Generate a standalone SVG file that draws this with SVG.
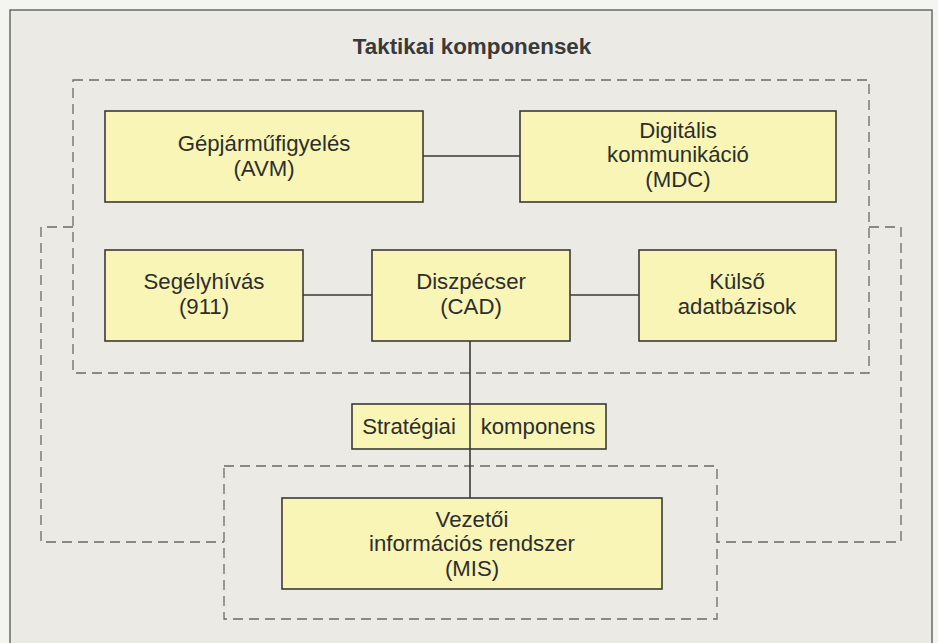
<svg xmlns="http://www.w3.org/2000/svg" width="938" height="643" viewBox="0 0 938 643">
  <style>
    .node { fill: #f8f5b6; stroke: #3a3a38; stroke-width: 1.6; }
    .link { stroke: #3a3a38; stroke-width: 1.6; fill: none; }
    .zone { stroke: #6a6a68; stroke-width: 1.3; fill: none; stroke-dasharray: 10 6; }
    .label { font-family: "Liberation Sans", Arial, sans-serif; font-size: 22.2px; fill: #2e2e2c; text-anchor: middle; }
    .title { font-family: "Liberation Sans", Arial, sans-serif; font-size: 22.4px; font-weight: bold; fill: #3a3a38; text-anchor: middle; }
  </style>

  <!-- page and panel -->
  <rect x="0" y="0" width="938" height="643" fill="#f4f4f1"/>
  <rect x="10" y="10" width="922" height="640" fill="#ebeae5" stroke="#6a6a68" stroke-width="1.5"/>

  <text class="title" x="472" y="54">Taktikai komponensek</text>

  <!-- dashed grouping zones -->
  <g id="zones">
    <rect class="zone" x="73" y="80" width="796" height="293"/>
    <polyline class="zone" points="73,227 41,227 41,542 224,542"/>
    <polyline class="zone" points="869,227 901,227 901,542 717,542"/>
    <rect class="zone" x="224" y="466" width="493" height="153"/>
  </g>

  <!-- connectors -->
  <g id="connectors">
    <line class="link" x1="423" y1="156" x2="520" y2="156"/>
    <line class="link" x1="303" y1="295" x2="372" y2="295"/>
    <line class="link" x1="570" y1="295" x2="639" y2="295"/>
  </g>

  <g id="avm">
    <rect class="node" x="105" y="111" width="318" height="91"/>
    <text class="label" x="264" y="151">Gépjárműfigyelés</text>
    <text class="label" x="264" y="176">(AVM)</text>
  </g>

  <g id="mdc">
    <rect class="node" x="520" y="111" width="316" height="91"/>
    <text class="label" x="678" y="138">Digitális</text>
    <text class="label" x="678" y="162">kommunikáció</text>
    <text class="label" x="678" y="187">(MDC)</text>
  </g>

  <g id="emergency">
    <rect class="node" x="105" y="250" width="198" height="91"/>
    <text class="label" x="204" y="289">Segélyhívás</text>
    <text class="label" x="204" y="314">(911)</text>
  </g>

  <g id="cad">
    <rect class="node" x="372" y="250" width="198" height="91"/>
    <text class="label" x="471" y="289">Diszpécser</text>
    <text class="label" x="471" y="314">(CAD)</text>
  </g>

  <g id="external">
    <rect class="node" x="639" y="250" width="197" height="91"/>
    <text class="label" x="737" y="289">Külső</text>
    <text class="label" x="737" y="314">adatbázisok</text>
  </g>

  <g id="strategic">
    <rect class="node" x="352" y="404" width="254" height="45"/>
    <text class="label" x="409" y="434">Stratégiai</text>
    <text class="label" x="538" y="434">komponens</text>
  </g>

  <g id="mis">
    <rect class="node" x="282" y="498" width="380" height="91"/>
    <text class="label" x="472" y="527">Vezetői</text>
    <text class="label" x="472" y="551">információs rendszer</text>
    <text class="label" x="472" y="576">(MIS)</text>
  </g>

  <!-- vertical trunk from dispatcher through the strategic box to MIS -->
  <g id="trunk">
    <line class="link" x1="470" y1="341" x2="470" y2="498"/>
  </g>
</svg>
